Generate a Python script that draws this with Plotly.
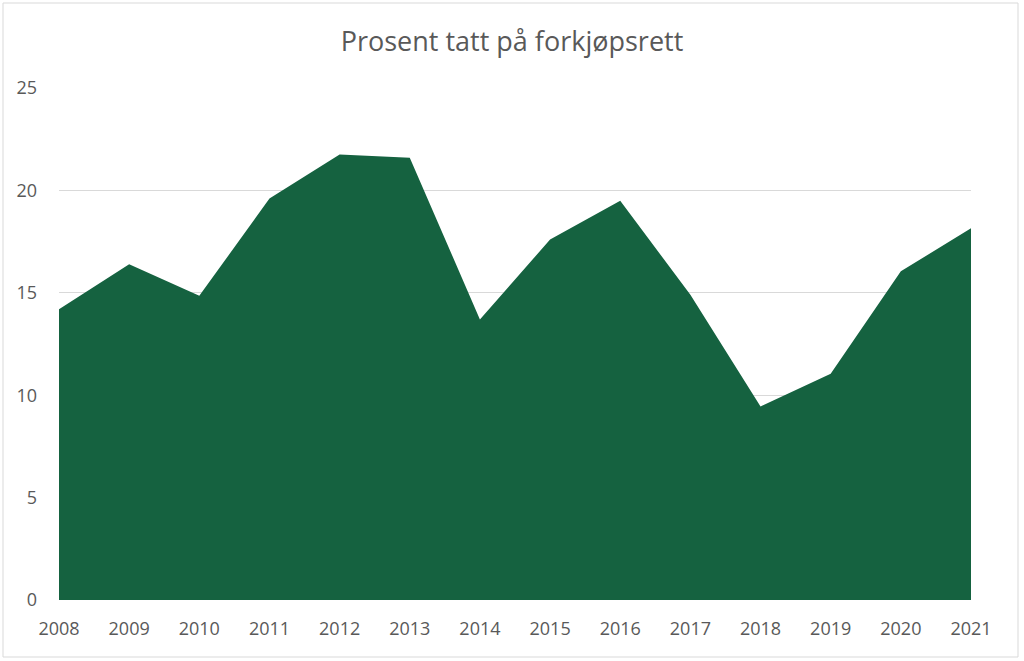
import plotly.graph_objects as go

years = [2008, 2009, 2010, 2011, 2012, 2013, 2014, 2015, 2016, 2017, 2018, 2019, 2020, 2021]
values = [14.2, 16.4, 14.85, 19.6, 21.75, 21.6, 13.7, 17.6, 19.5, 14.9, 9.45, 11.05, 16.05, 18.15]
tick_vals_y = [0, 5, 10, 15, 20, 25]
title_text = "Prosent tatt på forkjøpsrett"

W, H = 1024, 661
L, R, T, B = 59, 53, 88, 61
pw, ph = W - L - R, H - T - B

fig = go.Figure()
fig.add_trace(go.Scatter(
    x=years, y=values, mode="lines", fill="tozeroy",
    line=dict(color="#156240", width=0), fillcolor="#156240",
    hoverinfo="x+y", showlegend=False,
))

font_fam = "Open Sans, Liberation Sans, sans-serif"
fig.update_layout(
    width=W, height=H,
    margin=dict(l=L, r=R, t=T, b=B),
    paper_bgcolor="white", plot_bgcolor="white",
    title=dict(text=title_text, x=0.5, xanchor="center", y=1 - 42 / H, yanchor="middle",
               font=dict(family=font_fam, size=27, color="#595959")),
    xaxis=dict(range=[2008, 2021], tickmode="array", tickvals=years,
               ticktext=[str(y) for y in years], showgrid=False, zeroline=False,
               showline=False, ticks="", ticklen=0, ticklabelstandoff=16,
               tickfont=dict(family=font_fam, size=18, color="#595959")),
    yaxis=dict(range=[0, 25], tickmode="array", tickvals=tick_vals_y,
               showgrid=True, gridcolor="#d9d9d9", gridwidth=1, zeroline=False,
               showline=False, ticks="", ticklabelstandoff=21,
               tickfont=dict(family=font_fam, size=18, color="#595959")),
    shapes=[dict(type="rect", xref="paper", yref="paper",
                 x0=(3 - L) / pw, x1=(1018 - L) / pw,
                 y0=-(657 - (T + ph)) / ph, y1=1 + (T - 3) / ph,
                 line=dict(color="#d9d9d9", width=1), fillcolor="rgba(0,0,0,0)", layer="below")],
)
fig.write_html("out.html", config={"displayModeBar": False},
               post_script="document.body.style.margin='0';document.body.style.overflow='hidden';")
